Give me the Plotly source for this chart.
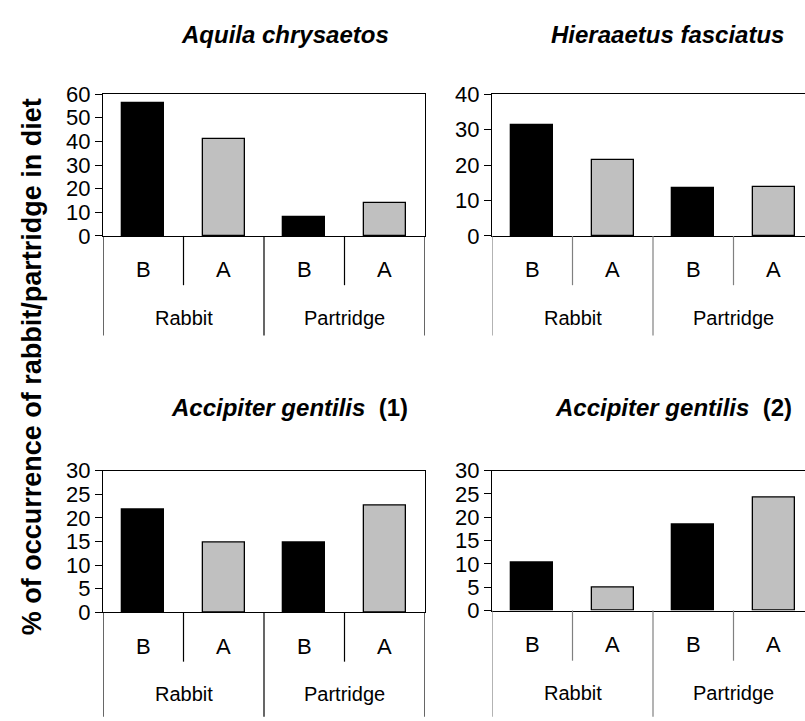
import plotly.graph_objects as go

# ---- data -------------------------------------------------------------
periods = ["B", "A", "B", "A"]            # before / after, per prey
prey_groups = ["Rabbit", "Partridge"]
bar_colors = ["#000000", "#c0c0c0", "#000000", "#c0c0c0"]

species_names = ["Aquila chrysaetos", "Hieraaetus fasciatus",
                 "Accipiter gentilis", "Accipiter gentilis"]
species_suffix = ["", "", "(1)", "(2)"]

aquila_chrysaetos = [56, 41, 8, 14]
hieraaetus_fasciatus = [31.3, 21.5, 13.4, 13.9]
accipiter_gentilis_1 = [21.7, 14.8, 14.8, 22.5]
accipiter_gentilis_2 = [10.2, 4.9, 18.5, 24.3]

y_max = [60, 40, 30, 30]
y_step = [10, 10, 5, 5]

y_title = "% of occurrence of rabbit/partridge in diet"

# ---- page geometry (pixels) -------------------------------------------
W, H = 805, 721
FONT = "Liberation Sans, Arial, sans-serif"


def fx(p):
    return p / W


def fy(p):
    return 1 - p / H


# left, right, top, zero line, B/A label, inner divider end, group label,
# outer divider end, divider colour, title centre x, title y
panels = [
    dict(l=103, r=425, t=85, z=232, cy=267, ib=283, gy=317, ob=335, dc="#000000", tx=285, ty=23),
    dict(l=492, r=805, t=85, z=232, cy=267, ib=283, gy=317, ob=335, dc="#808080", tx=667, ty=23),
    dict(l=103, r=425, t=475, z=622, cy=657, ib=673, gy=707, ob=730, dc="#000000", tx=289, ty=410),
    dict(l=492, r=805, t=475, z=620, cy=655, ib=672, gy=705, ob=730, dc="#808080", tx=673, ty=410),
]
series = [aquila_chrysaetos, hieraaetus_fasciatus, accipiter_gentilis_1, accipiter_gentilis_2]
slot_px = (425 - 103) / len(periods)

fig = go.Figure()
annotations = []
shapes = []
layout = {}

for k, (p, vals) in enumerate(zip(panels, series)):
    n = "" if k == 0 else str(k + 1)
    xa, ya = "x" + n, "y" + n
    xs = list(range(len(vals)))

    fig.add_trace(go.Bar(
        x=xs, y=vals, xaxis=xa, yaxis=ya, width=0.52,
        marker=dict(color=bar_colors, line=dict(color="#000000", width=1.3)),
        showlegend=False, hoverinfo="x+y",
    ))

    x_hi = -0.5 + (p["r"] - p["l"]) / slot_px
    clipped = p["r"] >= W
    layout["xaxis" + n] = dict(
        domain=[fx(p["l"]), fx(p["r"])], range=[-0.5, x_hi], anchor=ya,
        showline=True, linecolor="#000000", linewidth=1.3, mirror=True,
        showticklabels=False, ticks="", showgrid=False, zeroline=False,
        fixedrange=True,
    )
    layout["yaxis" + n] = dict(
        domain=[fy(p["z"]), fy(p["t"])], range=[0, y_max[k]], anchor=xa,
        showline=True, linecolor="#000000", linewidth=1.3,
        mirror=(not clipped), ticks="outside", ticklen=7, tickwidth=1.2,
        tickcolor="#000000", dtick=y_step[k], tick0=0,
        tickfont=dict(family=FONT, size=22, color="#000000"),
        showgrid=False, zeroline=False, fixedrange=True,
    )

    # category labels under each bar
    for i, lab in enumerate(periods):
        annotations.append(dict(
            x=i, y=fy(p["cy"]), xref=xa, yref="paper", text=lab,
            showarrow=False, xanchor="center", yanchor="middle",
            font=dict(family=FONT, size=22, color="#000000"),
        ))
    # prey group labels
    for g, lab in enumerate(prey_groups):
        annotations.append(dict(
            x=2 * g + 0.5, y=fy(p["gy"]), xref=xa, yref="paper", text=lab,
            showarrow=False, xanchor="center", yanchor="middle",
            font=dict(family=FONT, size=20, color="#000000"),
        ))
    # dividers between B/A and between prey groups
    for i in range(len(periods) + 1):
        xb = i - 0.5
        if xb > x_hi:
            continue
        bottom = p["ob"] if i % 2 == 0 else p["ib"]
        shapes.append(dict(
            type="line", xref=xa, yref="paper", x0=xb, x1=xb,
            y0=fy(p["z"]), y1=fy(bottom),
            line=dict(color=p["dc"], width=1.2),
        ))

    # species title
    name = "<i>%s</i>" % species_names[k]
    if species_suffix[k]:
        name += "\u00a0\u00a0" + species_suffix[k]
    annotations.append(dict(
        x=fx(p["tx"]), y=fy(p["ty"]), xref="paper", yref="paper",
        text="<b>%s</b>" % name, showarrow=False,
        xanchor="center", yanchor="middle",
        font=dict(family=FONT, size=24, color="#000000"),
    ))

annotations.append(dict(
    x=fx(32), y=fy(368), xref="paper", yref="paper", text="<b>%s</b>" % y_title,
    textangle=-90, showarrow=False, xanchor="center", yanchor="middle",
    font=dict(family=FONT, size=27, color="#000000"),
))

fig.update_layout(
    width=W, height=H, margin=dict(l=0, r=0, t=0, b=0),
    paper_bgcolor="#ffffff", plot_bgcolor="#ffffff",
    annotations=annotations, shapes=shapes, bargap=0,
    **layout,
)

fig.write_html("out.html")
